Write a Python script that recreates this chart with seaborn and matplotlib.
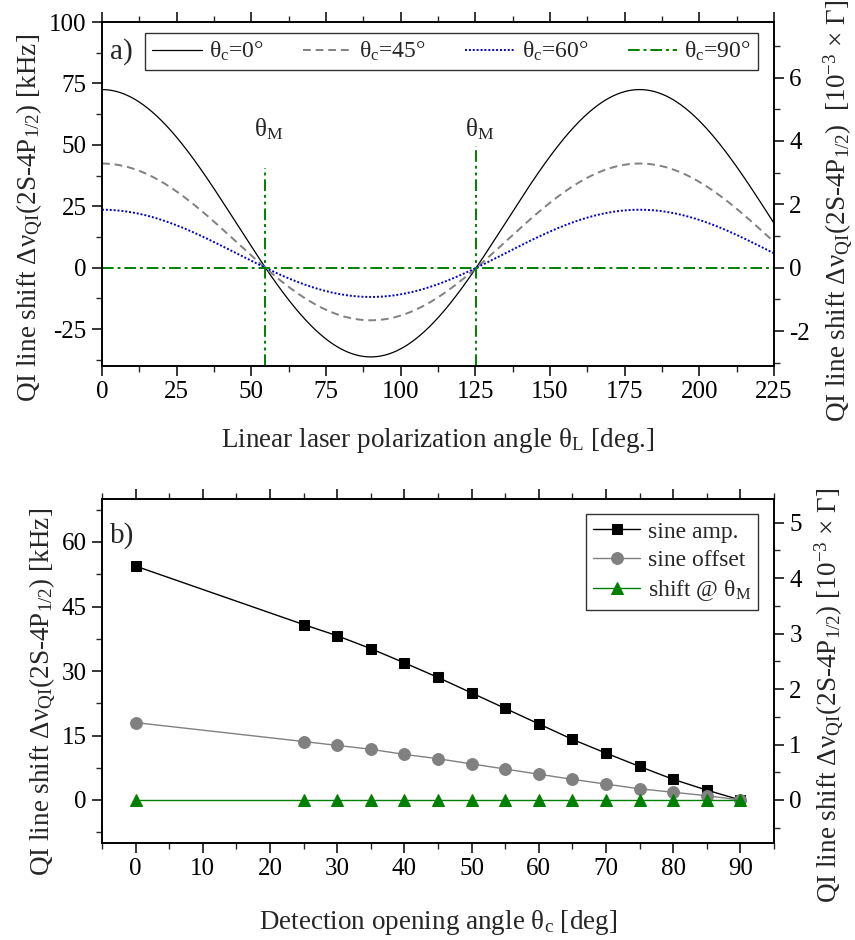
import numpy as np
import pandas as pd
import matplotlib
matplotlib.use("Agg")
import matplotlib.pyplot as plt
import seaborn as sns
from matplotlib.ticker import MultipleLocator

sns.set_theme(style="ticks")
plt.rcParams['font.family'] = ['Liberation Serif', 'DejaVu Serif']
plt.rcParams['mathtext.fontset'] = 'custom'
plt.rcParams['mathtext.rm'] = 'Liberation Serif'
plt.rcParams['mathtext.it'] = 'Liberation Serif:italic'
plt.rcParams['axes.unicode_minus'] = False

# ---------------- data ----------------
# panel a: peak (theta_L = 0) and trough (theta_L = 90) of each curve [kHz]
theta_c_labels = ["0", "45", "60", "90"]
peak_khz = [72.5, 42.4, 23.6, 0.0]
trough_khz = [-36.3, -21.4, -11.9, 0.0]
theta_magic = [54.7, 125.3]
magic_line_top = [40.5, 49.5]

# panel b
theta_c = [0, 25, 30, 35, 40, 45, 50, 55, 60, 65, 70, 75, 80, 85, 90]
sine_amp = [54.4, 40.8, 38.2, 35.2, 31.9, 28.5, 24.9, 21.3, 17.7, 14.1, 10.9, 7.8, 4.8, 2.3, 0.0]
sine_offset = [18.0, 13.6, 12.7, 11.8, 10.6, 9.6, 8.4, 7.2, 6.0, 4.8, 3.7, 2.6, 1.8, 1.0, 0.0]
shift_magic = [0.0] * 15

GAMMA_KHZ = 12.9  # 10^-3 x Gamma in kHz

# ---------------- figure ----------------
fig = plt.figure(figsize=(8.55, 9.4), dpi=100)
ax1 = fig.add_axes([102/855, 1-366/940, 672/855, 344/940])
ax2 = fig.add_axes([102/855, 1-843/940, 672/855, 344/940])

FS_TICK = 18
FS_LAB = 19.5

styles = [
    dict(color="black", ls="-", lw=0.9),
    dict(color="#808080", ls=(0, (4, 2.5)), lw=1.4),
    dict(color="#0000cc", ls=(0, (1, 1)), lw=1.4),
    dict(color="#008000", ls=(0, (6, 2, 1.5, 2)), lw=1.4),
]

thL = np.linspace(0, 225, 901)
for lab, pk, tr, st in zip(theta_c_labels, peak_khz, trough_khz, styles):
    off = (pk + tr) / 2
    amp = (pk - tr) / 2
    y = off + amp * np.cos(np.deg2rad(2 * thL))
    sns.lineplot(x=thL, y=y, ax=ax1, color=st["color"], linestyle=st["ls"],
                 linewidth=st["lw"], label=r"θ$_\mathrm{c}$=" + lab + "°")

for xm, top in zip(theta_magic, magic_line_top):
    ax1.plot([xm, xm], [-40, top], color="#008000", ls=(0, (6, 2, 1.5, 2, 1.5, 2)), lw=1.4)
    ax1.text(xm + 1, 51, r"θ$_\mathrm{M}$", fontsize=18, ha="center", va="bottom")

ax1.set_xlim(0, 225)
ax1.set_ylim(-40, 100)
ax1.xaxis.set_major_locator(MultipleLocator(25))
ax1.xaxis.set_minor_locator(MultipleLocator(12.5))
ax1.yaxis.set_major_locator(MultipleLocator(25))
ax1.yaxis.set_minor_locator(MultipleLocator(12.5))
ax1.set_xlabel(r"Linear laser polarization angle θ$_\mathrm{L}$ [deg.]", fontsize=FS_LAB, labelpad=16)
ax1.set_ylabel(r"QI line shift Δν$_\mathrm{QI}$(2S-4P$_\mathrm{1/2}$) [kHz]", fontsize=FS_LAB, labelpad=2)
ax1.yaxis.label.set_y(0.43)
ax1.text(0.012, 0.915, "a)", transform=ax1.transAxes, fontsize=21, va="center")
leg1 = ax1.legend(loc="lower left", bbox_to_anchor=(0.064, 0.860, 0.912, 0.111), mode="expand",
                  ncol=4, frameon=True, fancybox=False, fontsize=17, handlelength=2.1,
                  columnspacing=1.2, borderpad=0.3, handletextpad=0.3, borderaxespad=0)
leg1.get_frame().set_edgecolor("black")
leg1.get_frame().set_linewidth(1.0)

ax1r = ax1.twinx()
ax1r.set_ylim(-40 / GAMMA_KHZ, 100 / GAMMA_KHZ)
ax1r.yaxis.set_major_locator(MultipleLocator(2))
ax1r.yaxis.set_minor_locator(MultipleLocator(1))
ax1r.set_ylabel(r"QI line shift Δν$_\mathrm{QI}$(2S-4P$_\mathrm{1/2}$)  [10$^{-3}$ × Γ]",
                fontsize=FS_LAB, rotation=90, labelpad=8)
ax1r.yaxis.label.set_y(0.45)

# panel b
df = pd.DataFrame({"theta_c": theta_c, "amp": sine_amp, "off": sine_offset, "shift": shift_magic})
sns.lineplot(data=df, x="theta_c", y="amp", ax=ax2, color="black", lw=1.0, marker="s",
             markersize=7.5, markeredgecolor="black", label="sine amp.")
sns.lineplot(data=df, x="theta_c", y="off", ax=ax2, color="#808080", lw=1.0, marker="o",
             markersize=8.5, markeredgecolor="#808080", label="sine offset")
sns.lineplot(data=df, x="theta_c", y="shift", ax=ax2, color="#008000", lw=1.0, marker="^",
             markersize=9, markeredgecolor="#008000", label=r"shift @ θ$_\mathrm{M}$")

ax2.set_xlim(-5, 95)
ax2.set_ylim(-10, 70)
ax2.xaxis.set_major_locator(MultipleLocator(10))
ax2.xaxis.set_minor_locator(MultipleLocator(5))
ax2.yaxis.set_major_locator(MultipleLocator(15))
ax2.yaxis.set_minor_locator(MultipleLocator(7.5))
ax2.set_xlabel(r"Detection opening angle θ$_\mathrm{c}$ [deg]", fontsize=FS_LAB, labelpad=20)
ax2.set_ylabel(r"QI line shift Δν$_\mathrm{QI}$(2S-4P$_\mathrm{1/2}$) [kHz]", fontsize=FS_LAB, labelpad=2)
ax2.yaxis.label.set_y(0.44)
ax2.text(0.012, 0.895, "b)", transform=ax2.transAxes, fontsize=21, va="center")
leg2 = ax2.legend(loc="upper right", bbox_to_anchor=(0.976, 0.956), frameon=True, fancybox=False,
                  fontsize=17, handlelength=2.0, borderpad=0.3, labelspacing=0.3,
                  handletextpad=0.3, borderaxespad=0)
leg2.get_frame().set_edgecolor("black")
leg2.get_frame().set_linewidth(1.0)

ax2r = ax2.twinx()
ax2r.set_ylim(-10 / GAMMA_KHZ, 70 / GAMMA_KHZ)
ax2r.yaxis.set_major_locator(MultipleLocator(1))
ax2r.yaxis.set_minor_locator(MultipleLocator(0.5))
ax2r.set_ylabel(r"QI line shift Δν$_\mathrm{QI}$(2S-4P$_\mathrm{1/2}$) [10$^{-3}$ × Γ]",
                fontsize=FS_LAB, rotation=90, labelpad=8)
ax2r.yaxis.label.set_y(0.43)

for ax in (ax1, ax2, ax1r, ax2r):
    for s in ax.spines.values():
        s.set_linewidth(1.2)
        s.set_color("black")
    ax.tick_params(which="major", direction="out", length=7, width=1.1, labelsize=FS_TICK,
                   colors="black", pad=4)
    ax.tick_params(which="minor", direction="out", length=4, width=1.0)
for ax in (ax1, ax2):
    ax.tick_params(axis="x", which="both", top=True)
    ax.grid(False)

fig.savefig("out.png", dpi=100)
